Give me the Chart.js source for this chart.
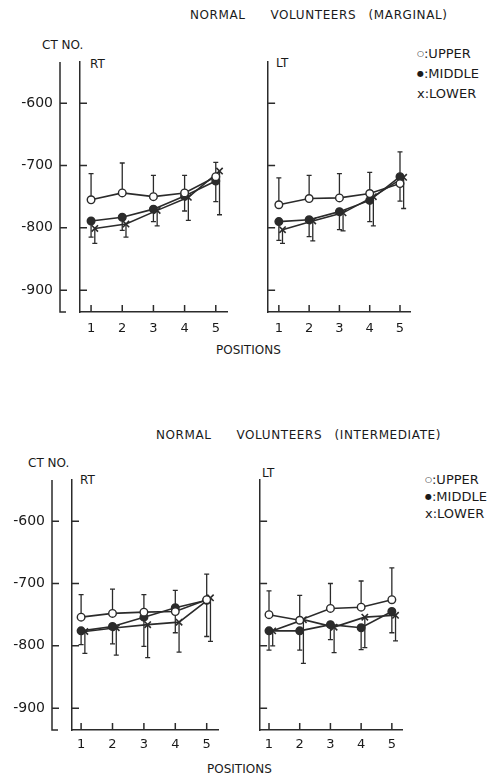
<!DOCTYPE html>
<html>
<head>
<meta charset="utf-8">
<script src="https://cdn.jsdelivr.net/npm/chart.js@4.4.1/dist/chart.umd.min.js"></script>
<style>
body{margin:0;background:#fff;width:499px;height:779px;position:relative;overflow:hidden;font-family:"DejaVu Sans",sans-serif;color:#1a1a1a}
.t{position:absolute;white-space:pre;line-height:1}
.box{position:absolute}
.mk{font-size:8px;vertical-align:2px}
.title{font-size:12px;letter-spacing:0.6px;word-spacing:8px}
.lg{font-size:13px}
</style>
</head>
<body>

<div class="t title" style="left:190px;top:9px">NORMAL  VOLUNTEERS (MARGINAL)</div>
<div class="t" style="left:42px;top:39px;font-size:12px">CT NO.</div>
<div class="t" style="left:90px;top:58px;font-size:12px">RT</div>
<div class="t" style="left:276px;top:57px;font-size:12px">LT</div>
<div class="t lg" style="left:417px;top:47px"><span class="mk">○</span>:UPPER</div>
<div class="t lg" style="left:417px;top:67px"><span class="mk">●</span>:MIDDLE</div>
<div class="t lg" style="left:417px;top:87px">x:LOWER</div>
<div class="t" style="left:216px;top:344px;font-size:12px">POSITIONS</div>

<div class="t title" style="left:156px;top:429px">NORMAL  VOLUNTEERS (INTERMEDIATE)</div>
<div class="t" style="left:28px;top:457px;font-size:12px">CT NO.</div>
<div class="t" style="left:80px;top:474px;font-size:12px">RT</div>
<div class="t" style="left:262px;top:467px;font-size:12px">LT</div>
<div class="t lg" style="left:425px;top:473px"><span class="mk">○</span>:UPPER</div>
<div class="t lg" style="left:425px;top:490px"><span class="mk">●</span>:MIDDLE</div>
<div class="t lg" style="left:425px;top:507px">x:LOWER</div>
<div class="t" style="left:207px;top:763px;font-size:12px">POSITIONS</div>

<div class="box" style="left:0;top:40px"><canvas id="margRt" width="235" height="300"></canvas></div>
<div class="box" style="left:262px;top:40px"><canvas id="margLt" width="155" height="300"></canvas></div>
<div class="box" style="left:0;top:460px"><canvas id="intRt" width="225" height="300"></canvas></div>
<div class="box" style="left:254px;top:460px"><canvas id="intLt" width="155" height="300"></canvas></div>

<script>
const positions = [1, 2, 3, 4, 5];
const yTicks = [-900, -800, -700, -600];

// marginal, right
const margRtUpper = [-755, -744, -750, -744, -718];
const margRtUpperSd = [42, 48, 34, 28, 23];
const margRtMiddle = [-789, -783, -770, -749, -725];
const margRtMiddleSd = [26, 21, 20, 24, 33];
const margRtLower = [-801, -794, -772, -751, -709];
const margRtLowerSd = [24, 21, 25, 37, 70];

// marginal, left
const margLtUpper = [-763, -753, -752, -745, -729];
const margLtUpperSd = [43, 37, 39, 34, 51];
const margLtMiddle = [-790, -787, -774, -756, -718];
const margLtMiddleSd = [30, 27, 29, 34, 39];
const margLtLower = [-803, -789, -776, -750, -719];
const margLtLowerSd = [22, 32, 29, 47, 50];

// intermediate, right
const intRtUpper = [-754, -748, -746, -745, -726];
const intRtUpperSd = [36, 39, 28, 34, 41];
const intRtMiddle = [-776, -769, -754, -739, -727];
const intRtMiddleSd = [22, 28, 47, 40, 58];
const intRtLower = [-777, -771, -766, -762, -723];
const intRtLowerSd = [35, 44, 53, 48, 70];

// intermediate, left
const intLtUpper = [-750, -759, -740, -738, -726];
const intLtUpperSd = [38, 40, 40, 42, 51];
const intLtMiddle = [-776, -776, -766, -771, -745];
const intLtMiddleSd = [31, 31, 24, 35, 34];
const intLtLower = [-776, -758, -770, -754, -751];
const intLtLowerSd = [24, 70, 41, 49, 41];

const INK = '#2b2b2b';
const LOWER_SHIFT = 0.12;

// inward ticks, the separate CT NO. axis, and the error bars
const axisMarks = {
  id: 'axisMarks',
  beforeDatasetsDraw(chart, args, opts) {
    const ctx = chart.ctx, a = chart.chartArea;
    const x = chart.scales.x, y = chart.scales.y;
    ctx.save();
    ctx.strokeStyle = INK;
    ctx.lineWidth = 1.5;
    ctx.beginPath();
    y.ticks.forEach(t => {
      const py = y.getPixelForValue(t.value);
      ctx.moveTo(a.left, py); ctx.lineTo(a.left + 7, py);
    });
    x.ticks.forEach(t => {
      const px = x.getPixelForValue(t.value);
      ctx.moveTo(px, a.bottom); ctx.lineTo(px, a.bottom - 7);
    });
    if (opts.labelAxis) {
      const lx = a.left - 20;
      ctx.moveTo(lx, a.top); ctx.lineTo(lx, a.bottom); ctx.lineTo(lx + 6, a.bottom);
      y.ticks.forEach(t => {
        const py = y.getPixelForValue(t.value);
        ctx.moveTo(lx, py); ctx.lineTo(lx + 7, py);
      });
    }
    ctx.stroke();

    ctx.lineWidth = 1.3;
    ctx.beginPath();
    chart.data.datasets.forEach(ds => {
      ds.data.forEach((p, i) => {
        const px = x.getPixelForValue(p.x);
        const y0 = y.getPixelForValue(p.y);
        const y1 = y.getPixelForValue(p.y + ds.errDir * ds.sd[i]);
        ctx.moveTo(px, y0); ctx.lineTo(px, y1);
        ctx.moveTo(px - 2.5, y1); ctx.lineTo(px + 2.5, y1);
      });
    });
    ctx.stroke();
    ctx.restore();
  }
};

function series(vals, sd, dir, shift, style) {
  return Object.assign({
    data: positions.map((p, i) => ({x: p + shift, y: vals[i]})),
    sd: sd,
    errDir: dir,
    borderColor: INK,
    borderWidth: 1.6,
    pointBorderColor: INK,
    pointBorderWidth: 1.4
  }, style);
}

function makePanel(id, up, upSd, mid, midSd, low, lowSd, o) {
  new Chart(document.getElementById(id), {
    type: 'line',
    data: {
      datasets: [
        series(up, upSd, 1, 0, {pointStyle: 'circle', pointRadius: 3.8, pointBackgroundColor: '#fff'}),
        series(mid, midSd, -1, 0, {pointStyle: 'circle', pointRadius: 3.8, pointBackgroundColor: INK}),
        series(low, lowSd, -1, LOWER_SHIFT, {pointStyle: 'crossRot', pointRadius: 4.5, pointBorderWidth: 1.6})
      ]
    },
    options: {
      responsive: false,
      animation: false,
      events: [],
      devicePixelRatio: 1,
      layout: {padding: {top: o.top, right: o.right, left: 0, bottom: 0}},
      plugins: {legend: {display: false}, tooltip: {enabled: false}, axisMarks: {labelAxis: o.labels}},
      scales: {
        x: {
          type: 'linear', min: o.xmin, max: 5.36,
          afterBuildTicks: s => { s.ticks = positions.map(v => ({value: v})); },
          afterFit: s => { s.height = o.xh; s.paddingLeft = 0; s.paddingRight = 0; },
          grid: {display: false, drawTicks: false},
          border: {display: true, color: INK, width: 1.5},
          ticks: {color: '#1a1a1a', padding: o.xpad, font: {family: 'DejaVu Sans', size: 13}}
        },
        y: {
          type: 'linear', min: -935, max: -534,
          afterBuildTicks: s => { s.ticks = yTicks.map(v => ({value: v})); },
          afterFit: s => { s.width = o.yw; s.paddingTop = 0; s.paddingBottom = 0; },
          grid: {display: false, drawTicks: false},
          border: {display: true, color: INK, width: 1.5},
          ticks: {display: o.labels, color: '#1a1a1a', padding: 27, font: {family: 'DejaVu Sans', size: 14}}
        }
      }
    },
    plugins: [axisMarks]
  });
}

makePanel('margRt', margRtUpper, margRtUpperSd, margRtMiddle, margRtMiddleSd, margRtLower, margRtLowerSd,
  {top: 22, right: 8, xh: 28, xpad: 9, yw: 80, labels: true, xmin: 0.645});
makePanel('margLt', margLtUpper, margLtUpperSd, margLtMiddle, margLtMiddleSd, margLtLower, margLtLowerSd,
  {top: 22, right: 5, xh: 28, xpad: 9, yw: 5, labels: false, xmin: 0.645});
makePanel('intRt', intRtUpper, intRtUpperSd, intRtMiddle, intRtMiddleSd, intRtLower, intRtLowerSd,
  {top: 20, right: 7, xh: 30, xpad: 7, yw: 72, labels: true, xmin: 0.71});
makePanel('intLt', intLtUpper, intLtUpperSd, intLtMiddle, intLtMiddleSd, intLtLower, intLtLowerSd,
  {top: 20, right: 6, xh: 30, xpad: 7, yw: 5, labels: false, xmin: 0.71});
</script>
</body>
</html>
